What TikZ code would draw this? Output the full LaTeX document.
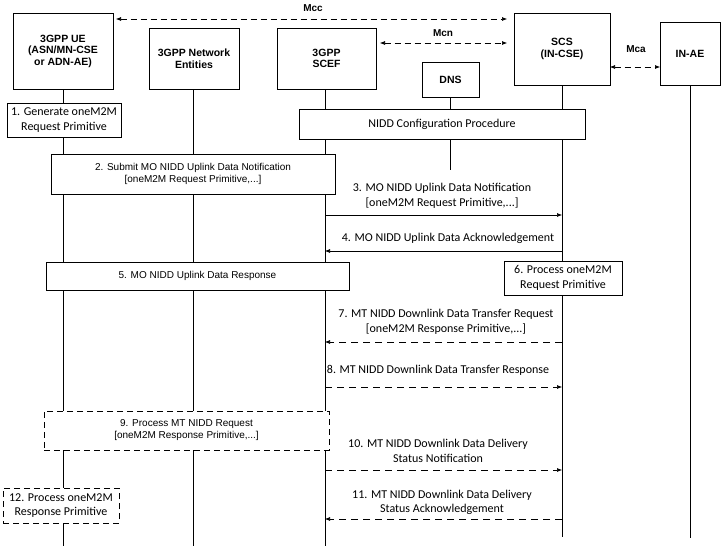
\documentclass[tikz,border=0pt]{standalone}
\usepackage{fontspec}
\setmainfont{Liberation Sans}
\newfontfamily\calib{Carlito}
\usetikzlibrary{arrows.meta}

\tikzset{
  entity/.style={draw, fill=white, align=center, inner sep=0pt,
    font=\bfseries\fontsize{10.5}{11.5}\selectfont},
  stepbox/.style={draw, fill=white, align=center, inner sep=0pt},
  optbox/.style={stepbox, dash pattern=on 6pt off 4pt},
  arial/.style={font=\fontsize{10}{12}\selectfont},
  calibri/.style={font=\calib\fontsize{12}{14.5}\selectfont},
  iface/.style={font=\bfseries\fontsize{10}{11}\selectfont},
  msg/.style={-{Latex[length=5pt,width=4pt]}, line width=0.6pt},
  dmsg/.style={msg, dash pattern=on 7pt off 5pt},
  ref/.style={{Latex[length=5pt,width=4pt]}-{Latex[length=5pt,width=4pt]}, line width=0.6pt, dash pattern=on 6pt off 4pt},
  life/.style={line width=0.6pt}
}

\begin{document}
\begin{tikzpicture}[x=1pt, y=-1pt]
\useasboundingbox (0,0) rectangle (726,546);
% lifelines
\coordinate (ueT) at (63,89);   \coordinate (ueB) at (63,546);
\coordinate (netT) at (193,89); \coordinate (netB) at (193,546);
\coordinate (scefT) at (325,89);\coordinate (scefB) at (325,546);
\coordinate (dnsT) at (450,97); \coordinate (dnsB) at (450,170);
\coordinate (scsT) at (562,85); \coordinate (scsB) at (562,537);
\coordinate (aeT) at (690,85);  \coordinate (aeB) at (690,538);
\foreach \x in {ue,net,scef,dns,scs,ae}
{
\draw[life] (\x T) -- (\x B);
}

% entities
\node[entity, minimum width=100pt, minimum height=76pt] (ue) at (63,51) {3GPP UE\\(ASN/MN-CSE\\or ADN-AE)};
\node[entity, minimum width=90pt, minimum height=61pt] (net) at (194,58.5) {3GPP Network\\Entities};
\node[entity, minimum width=99pt, minimum height=61pt] (scef) at (326.5,58.5) {3GPP\\SCEF};
\node[entity, minimum width=57pt, minimum height=35pt] (dns) at (450.5,79.5) {DNS};
\node[entity, minimum width=96pt, minimum height=72pt] (scs) at (562,49) {SCS\\(IN-CSE)};
\node[entity, minimum width=60pt, minimum height=63pt] (ae) at (690,53.5) {IN-AE};

% reference points
\coordinate (mccA) at (116,19);  \coordinate (mccB) at (507,19);
\coordinate (mcnA) at (380,43);  \coordinate (mcnB) at (507,43);
\coordinate (mcaA) at (610,67);  \coordinate (mcaB) at (660,67);
\draw[ref] (mccA) -- (mccB);
\draw[ref] (mcnA) -- (mcnB);
\draw[ref] (mcaA) -- (mcaB);
\node[iface] (mcc) at (313,8) {Mcc};
\node[iface] (mcn) at (443,33) {Mcn};
\node[iface] (mca) at (636,49) {Mca};

% steps
\node[stepbox, calibri, minimum width=114pt, minimum height=34pt] (s1) at (64,120) {1. Generate oneM2M\\Request Primitive};
\node[stepbox, calibri, minimum width=286pt, minimum height=30pt] (cfg) at (442,124) {NIDD Configuration Procedure};
\node[stepbox, arial, minimum width=284pt, minimum height=40pt] (s2) at (193,174) {2. Submit MO NIDD Uplink Data Notification\\{}[oneM2M Request Primitive,...]};

\coordinate (s3a) at (325,215); \coordinate (s3b) at (562,215);
\draw[msg] (s3a) -- (s3b);
\node[calibri, align=center] (l3) at (442,196) {3. MO NIDD Uplink Data Notification\\{}[oneM2M Request Primitive,...]};

\coordinate (s4a) at (562,251); \coordinate (s4b) at (325,251);
\draw[msg] (s4a) -- (s4b);
\node[calibri] (l4) at (448,238) {4. MO NIDD Uplink Data Acknowledgement};

\node[stepbox, arial, minimum width=303pt, minimum height=28pt] (s5) at (197.5,276) {5. MO NIDD Uplink Data Response};
\node[stepbox, calibri, minimum width=118pt, minimum height=34pt] (s6) at (563,278) {6. Process oneM2M\\Request Primitive};

\coordinate (s7a) at (562,342); \coordinate (s7b) at (325,342);
\draw[dmsg] (s7a) -- (s7b);
\node[calibri, align=center] (l7) at (446,322) {7. MT NIDD Downlink Data Transfer Request\\{}[oneM2M Response Primitive,...]};

\coordinate (s8a) at (325,387); \coordinate (s8b) at (562,387);
\draw[dmsg] (s8a) -- (s8b);
\node[calibri] (l8) at (438,370) {8. MT NIDD Downlink Data Transfer Response};

\node[optbox, arial, minimum width=285pt, minimum height=39pt] (s9) at (186.5,430.5) {9. Process MT NIDD Request\\{}[oneM2M Response Primitive,...]};

\coordinate (s10a) at (325,470); \coordinate (s10b) at (562,470);
\draw[dmsg] (s10a) -- (s10b);
\node[calibri, align=center] (l10) at (438,451) {10. MT NIDD Downlink Data Delivery\\Status Notification};

\coordinate (s11a) at (562,519); \coordinate (s11b) at (325,519);
\draw[dmsg] (s11a) -- (s11b);
\node[calibri, align=center] (l11) at (442,502.5) {11. MT NIDD Downlink Data Delivery\\Status Acknowledgement};

\node[optbox, calibri, minimum width=116pt, minimum height=35pt] (s12) at (61,505.5) {12. Process oneM2M\\Response Primitive};

\end{tikzpicture}
\end{document}
